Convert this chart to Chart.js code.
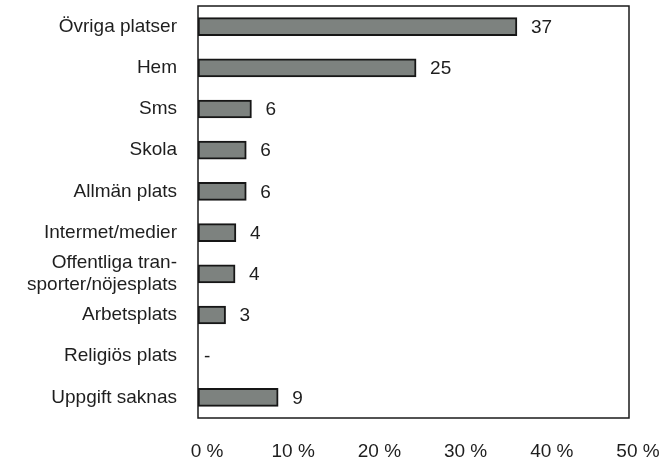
<!DOCTYPE html>
<html>
<head>
<meta charset="utf-8">
<script src="https://cdn.jsdelivr.net/npm/chart.js@4/dist/chart.umd.min.js"></script>
<style>
html,body{margin:0;padding:0;background:#fff;}
#wrap{width:670px;height:457px;}
</style>
</head>
<body>
<div id="wrap"><canvas id="c" width="670" height="457"></canvas></div>
<script>
const categories = [
  "Övriga platser",
  "Hem",
  "Sms",
  "Skola",
  "Allmän plats",
  "Intermet/medier",
  ["Offentliga tran-", "sporter/nöjesplats"],
  "Arbetsplats",
  "Religiös plats",
  "Uppgift saknas"
];
const values = [37, 25.3, 6.2, 5.6, 5.6, 4.4, 4.3, 3.2, 0, 9.3];
const valueLabels = ["37", "25", "6", "6", "6", "4", "4", "3", "-", "9"];
const xTicks = [0, 10, 20, 30, 40, 50];

const FONT = "'Liberation Sans', Arial, Helvetica, sans-serif";
const TEXT = '#1e1e1e';

const frame = {
  id: 'frame',
  afterDatasetsDraw(chart) {
    const {ctx, chartArea: a} = chart;
    ctx.save();
    ctx.strokeStyle = '#1a1a1a';
    ctx.lineWidth = 1.5;
    ctx.strokeRect(a.left, a.top, a.right - a.left, a.bottom - a.top);
    ctx.restore();
  }
};

const valueLabelPlugin = {
  id: 'valueLabels',
  afterDatasetsDraw(chart) {
    const {ctx} = chart;
    const meta = chart.getDatasetMeta(0);
    ctx.save();
    ctx.font = '19px ' + FONT;
    ctx.fillStyle = TEXT;
    ctx.textBaseline = 'middle';
    ctx.textAlign = 'left';
    meta.data.forEach((bar, i) => {
      const gap = values[i] === 0 ? 6 : 14;
      ctx.fillText(valueLabels[i], bar.x + gap, bar.y + 1);
    });
    ctx.restore();
  }
};

new Chart(document.getElementById('c'), {
  type: 'bar',
  data: {
    labels: categories,
    datasets: [{
      data: values,
      backgroundColor: '#7d827f',
      borderColor: '#161616',
      borderWidth: 2,
      borderSkipped: false,
      barThickness: 18
    }]
  },
  options: {
    indexAxis: 'y',
    responsive: false,
    animation: false,
    layout: {padding: {top: 6, right: 41, left: 0, bottom: 0}},
    plugins: {legend: {display: false}, tooltip: {enabled: false}},
    scales: {
      x: {
        min: 0, max: 50,
        afterBuildTicks(scale) { scale.ticks = xTicks.map(v => ({value: v})); },
        afterFit(scale) { scale.height = 39; scale.paddingLeft = 0; scale.paddingRight = 0; },
        grid: {display: false, drawTicks: false},
        border: {display: false},
        ticks: {
          color: TEXT,
          font: {family: FONT, size: 19},
          padding: 22,
          labelOffset: 9,
          maxRotation: 0,
          callback: v => v + ' %'
        }
      },
      y: {
        afterFit(scale) { scale.width = 198; scale.paddingTop = 0; scale.paddingBottom = 0; },
        grid: {display: false, drawTicks: false},
        border: {display: false},
        ticks: {
          color: TEXT,
          autoSkip: false,
          font: {family: FONT, size: 19, lineHeight: 1.15},
          padding: 21
        }
      }
    }
  },
  plugins: [frame, valueLabelPlugin]
});
</script>
</body>
</html>
